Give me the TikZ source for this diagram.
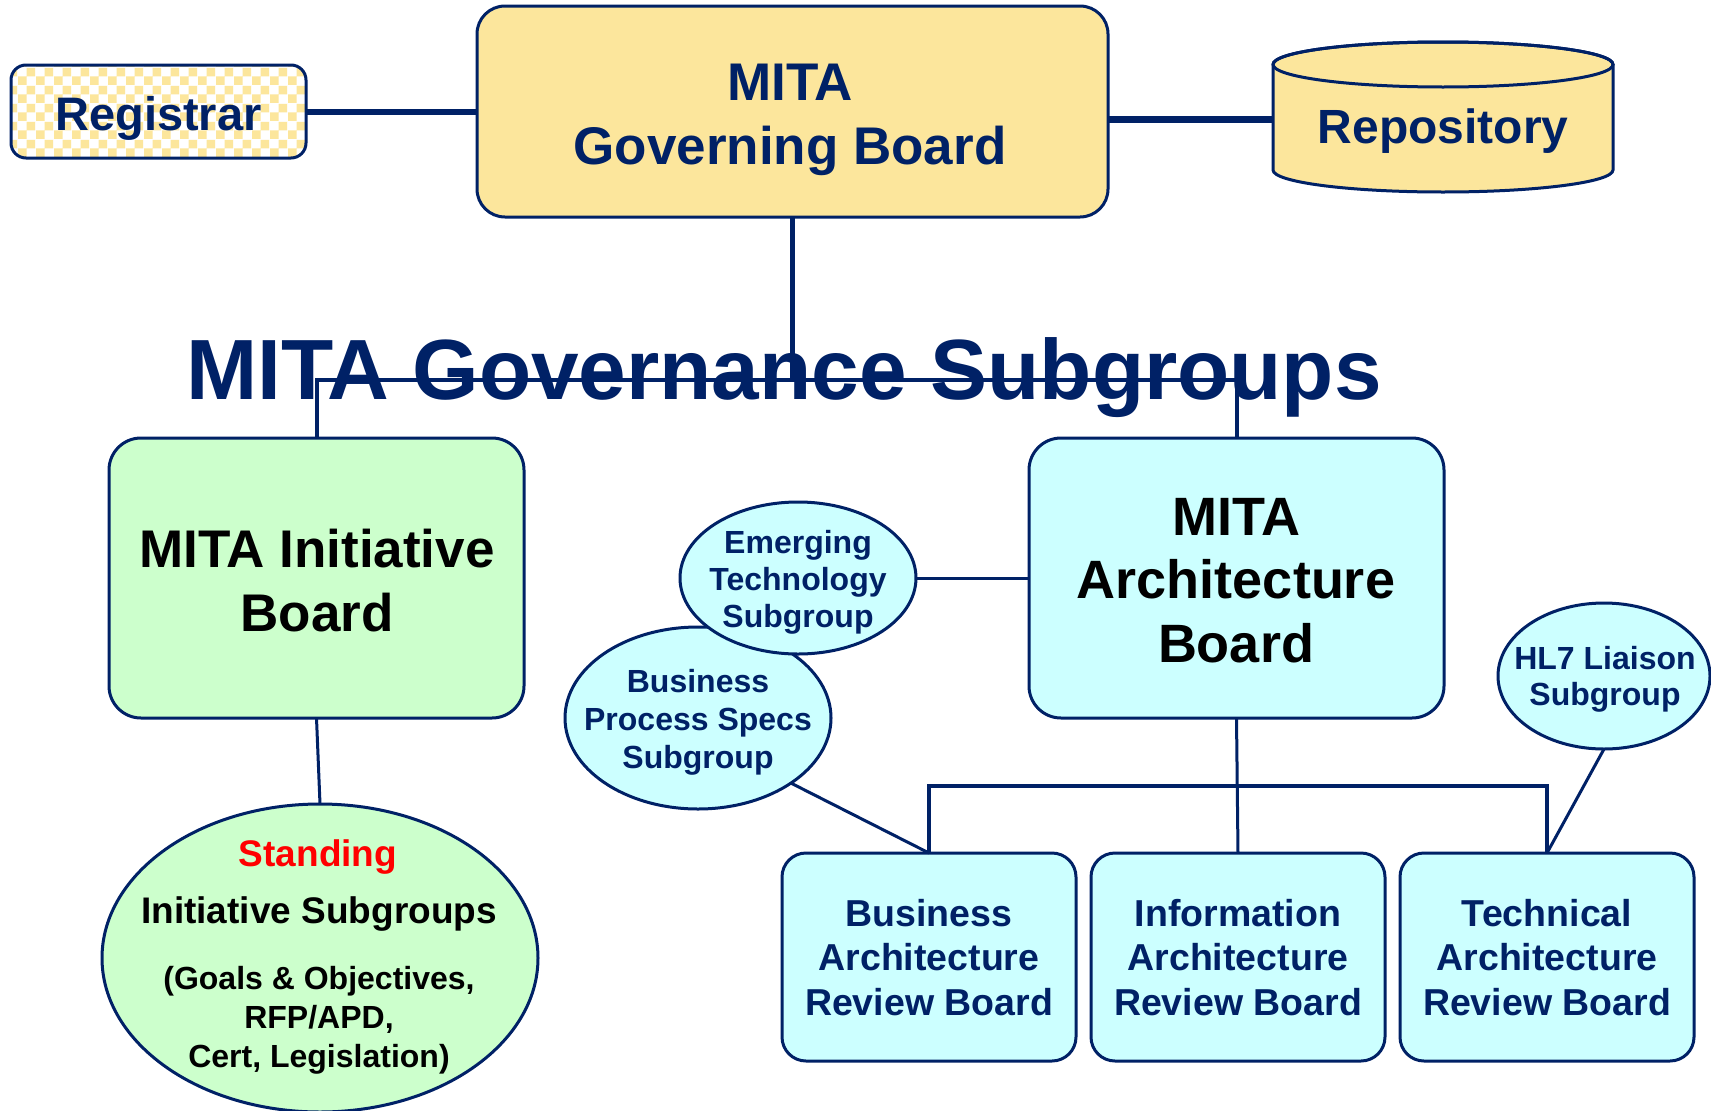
\documentclass[tikz,border=0pt]{standalone}
\usepackage{fontspec}
\setmainfont{Liberation Sans}
\usetikzlibrary{shapes.geometric,patterns.meta}
\definecolor{navy}{RGB}{0,33,102}
\definecolor{gold}{RGB}{252,230,156}
\definecolor{mint}{RGB}{204,255,204}
\definecolor{aqua}{RGB}{204,255,255}
\definecolor{redtxt}{RGB}{255,0,0}
\newcommand\stk[2]{\vtop{\baselineskip=#1\lineskiplimit=-1000pt\lineskip=0pt\halign{\hfil##\hfil\cr#2\crcr}}}
\newcommand\myfs[1]{\fontsize{#1}{#1}\selectfont\bfseries}
\tikzdeclarepattern{
  name=bigcheck,
  type=uncolored,
  bounding box={(0pt,0pt) and (18pt,18pt)},
  tile size={(18pt,18pt)},
  code={
    \pgfpathrectangle{\pgfpointorigin}{\pgfqpoint{9pt}{9pt}}
    \pgfpathrectangle{\pgfqpoint{9pt}{9pt}}{\pgfqpoint{9pt}{9pt}}
    \pgfusepath{fill}
  }
}
\begin{document}
\begin{tikzpicture}[x=1pt,y=-1pt,
  shp/.style={draw=navy, line width=3pt, inner sep=0pt, outer sep=0pt},
  rbox/.style={shp, rectangle},
  ell/.style={shp, ellipse, fill=aqua},
  lbl/.style={inner sep=0pt, outer sep=0pt, anchor=base, text=navy},
  conn/.style={draw=navy, line width=3pt},
]
\useasboundingbox (0,0) rectangle (1711,1111);
\fill[white] (0,0) rectangle (1711,1111);

% shapes
\node[rbox, preaction={fill=white}, pattern=bigcheck, pattern color=gold, rounded corners=15pt, minimum width=295pt, minimum height=93pt] (reg) at (158.5,111.5) {};
\node[rbox, fill=gold, rounded corners=28pt, minimum width=631pt, minimum height=211pt] (gov) at (792.5,111.5) {};
\node[inner sep=0pt, outer sep=0pt, minimum width=340pt, minimum height=146pt] (repo) at (1443,119) {};
\draw[navy, line width=3pt, fill=gold] (1273,64.5) -- (1273,170) arc[start angle=180, end angle=0, x radius=170, y radius=22] -- (1613,64.5) arc[start angle=0, end angle=-180, x radius=170, y radius=22.5] -- cycle;
\draw[navy, line width=3pt] (1443,64.5) ellipse[x radius=170, y radius=22.5];

\node[lbl, font=\myfs{85.5}] (title) at (784,399) {MITA Governance Subgroups};

\node[rbox, fill=mint, rounded corners=32pt, minimum width=415pt, minimum height=280pt] (ib) at (316.5,578) {};
\node[rbox, fill=aqua, rounded corners=32pt, minimum width=415pt, minimum height=280pt] (ab) at (1236.5,578) {};
\node[ell, fill=mint, minimum width=436pt, minimum height=308pt] (ie) at (320,958) {};
\node[ell, minimum width=266pt, minimum height=182pt] (bps) at (698,718) {};
\node[ell, minimum width=236pt, minimum height=152pt] (et) at (798,578) {};
\node[ell, minimum width=212pt, minimum height=146pt] (hl) at (1604,676) {};
\node[rbox, fill=aqua, rounded corners=24pt, minimum width=294pt, minimum height=208pt] (bra) at (929,957) {};
\node[rbox, fill=aqua, rounded corners=24pt, minimum width=294pt, minimum height=208pt] (ira) at (1238,957) {};
\node[rbox, fill=aqua, rounded corners=24pt, minimum width=294pt, minimum height=208pt] (tra) at (1547,957) {};

% connectors
\coordinate (tb) at (792.5,380);
\coordinate (rb) at (1238,786);
\draw[conn, line width=6pt] (reg.east) -- (gov.west);
\draw[conn, line width=7pt] (gov.east |- repo.west) -- (repo.west);
\draw[conn, line width=5pt] (gov.south) -- (tb);
\draw[conn, line width=4pt] (ib.north) -- (ib.north |- tb) -- (ab.north |- tb) -- (ab.north);
\draw[conn] (ib.south) -- (ie.north);
\draw[conn] (et.east) -- (ab.west);
\draw[conn] (ab.south) -- (ira.north);
\draw[conn, line width=3.5pt] (bra.north) -- (bra.north |- rb) -- (tra.north |- rb) -- (tra.north);
\draw[conn] (bps.-35) -- (bra.north);
\draw[conn] (hl.south) -- (tra.north);

% labels
\node[lbl, font=\myfs{47}] (regt) at (158.5,130) {Registrar};
\node[lbl, font=\myfs{53}] (govt) at (790,100) {\stk{64pt}{MITA\cr Governing Board}};
\node[lbl, font=\myfs{48}] (repot) at (1443,143) {Repository};
\node[lbl, font=\myfs{53}, text=black] (ibt) at (317,567) {\stk{64pt}{MITA Initiative\cr Board}};
\node[lbl, font=\myfs{54}, text=black] (abt) at (1236,535) {\stk{63.5pt}{MITA\cr Architecture\cr Board}};
\node[lbl, font=\myfs{32}] (ett) at (798,553) {\stk{37pt}{Emerging\cr Technology\cr Subgroup}};
\node[lbl, font=\myfs{32}] (bpst) at (698,692) {\stk{38pt}{Business\cr Process Specs\cr Subgroup}};
\node[lbl, font=\myfs{32}] (hlt) at (1605,669) {\stk{36pt}{HL7 Liaison\cr Subgroup}};
\node[lbl, font=\myfs{37}, text=redtxt] (st) at (318,866) {Standing};
\node[lbl, font=\myfs{37}, text=black] (ist) at (319,923) {Initiative Subgroups};
\node[lbl, font=\myfs{32}, text=black] (gt) at (319,989) {\stk{39pt}{(Goals \& Objectives,\cr RFP/APD,\cr Cert, Legislation)}};
\node[lbl, font=\myfs{37.5}] (brat) at (929,926) {\stk{44.5pt}{Business\cr Architecture\cr Review Board}};
\node[lbl, font=\myfs{37.5}] (irat) at (1238,926) {\stk{44.5pt}{Information\cr Architecture\cr Review Board}};
\node[lbl, font=\myfs{37.5}] (trat) at (1547,926) {\stk{44.5pt}{Technical\cr Architecture\cr Review Board}};
\end{tikzpicture}
\end{document}
